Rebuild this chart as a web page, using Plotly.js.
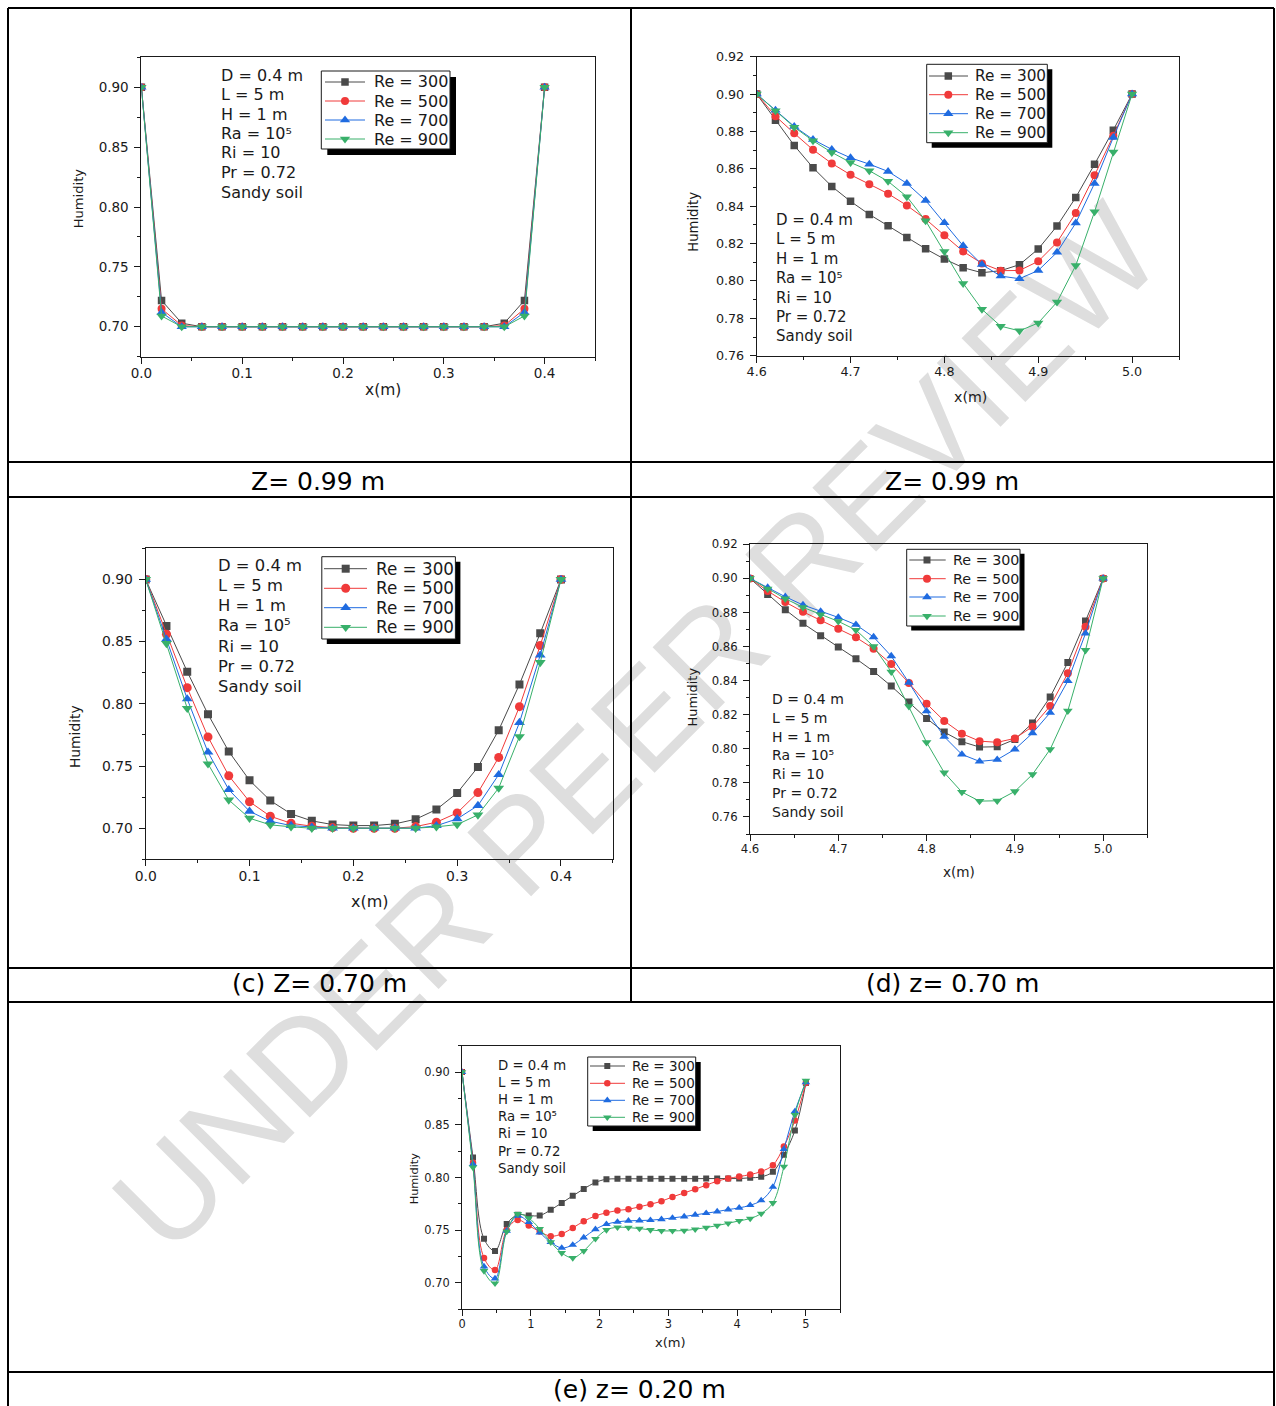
<!DOCTYPE html>
<html>
<head>
<meta charset="utf-8">
<script src="https://cdn.plot.ly/plotly-3.0.1.min.js"></script>
<style>
html, body { margin: 0; padding: 0; background: #ffffff; }
#chart { width: 1276px; height: 1406px; }
</style>
</head>
<body>
<div id="chart"></div>
<script>
// ---------------- DATA ----------------
const seriesNames = ['Re = 300', 'Re = 500', 'Re = 700', 'Re = 900'];
const paramLines = ['D = 0.4 m', 'L = 5 m', 'H = 1 m', 'Ra = 10\u2075', 'Ri = 10', 'Pr = 0.72', 'Sandy soil'];
const captions = ['Z= 0.99 m', 'Z= 0.99 m', '(c) Z= 0.70 m', '(d) z= 0.70 m', '(e) z= 0.20 m'];
const xTitle = 'x(m)';
const yTitle = 'Humidity';
const watermark = 'UNDER PEER REVIEW';

// (a) Z = 0.99 m, x from 0 to 0.4
const xA = [0.00, 0.02, 0.04, 0.06, 0.08, 0.10, 0.12, 0.14, 0.16, 0.18, 0.20, 0.22, 0.24, 0.26, 0.28, 0.30, 0.32, 0.34, 0.36, 0.38, 0.40];
const a300 = [0.900, 0.722, 0.703, 0.700, 0.700, 0.700, 0.700, 0.700, 0.700, 0.700, 0.700, 0.700, 0.700, 0.700, 0.700, 0.700, 0.700, 0.700, 0.703, 0.722, 0.900];
const a500 = [0.900, 0.715, 0.701, 0.700, 0.700, 0.700, 0.700, 0.700, 0.700, 0.700, 0.700, 0.700, 0.700, 0.700, 0.700, 0.700, 0.700, 0.700, 0.701, 0.715, 0.900];
const a700 = [0.900, 0.712, 0.700, 0.700, 0.700, 0.700, 0.700, 0.700, 0.700, 0.700, 0.700, 0.700, 0.700, 0.700, 0.700, 0.700, 0.700, 0.700, 0.700, 0.712, 0.900];
const a900 = [0.900, 0.709, 0.700, 0.700, 0.700, 0.700, 0.700, 0.700, 0.700, 0.700, 0.700, 0.700, 0.700, 0.700, 0.700, 0.700, 0.700, 0.700, 0.700, 0.709, 0.900];

// (b) Z = 0.99 m, x from 4.6 to 5.0
const xB = [4.60, 4.62, 4.64, 4.66, 4.68, 4.70, 4.72, 4.74, 4.76, 4.78, 4.80, 4.82, 4.84, 4.86, 4.88, 4.90, 4.92, 4.94, 4.96, 4.98, 5.00];
const b300 = [0.900, 0.8860, 0.8725, 0.8606, 0.8506, 0.8426, 0.8356, 0.8295, 0.8233, 0.8172, 0.8117, 0.8071, 0.8044, 0.8055, 0.8087, 0.8171, 0.8294, 0.8447, 0.8624, 0.8807, 0.900];
const b500 = [0.900, 0.8882, 0.8790, 0.8702, 0.8629, 0.8568, 0.8518, 0.8467, 0.8404, 0.8331, 0.8244, 0.8158, 0.8094, 0.8055, 0.8056, 0.8105, 0.8206, 0.8363, 0.8565, 0.8777, 0.900];
const b700 = [0.900, 0.8914, 0.8827, 0.8757, 0.8704, 0.8659, 0.8625, 0.8586, 0.8522, 0.8431, 0.8311, 0.8188, 0.8088, 0.8026, 0.8012, 0.8056, 0.8153, 0.8310, 0.8522, 0.8768, 0.900];
const b900 = [0.900, 0.8911, 0.8823, 0.8750, 0.8688, 0.8634, 0.8590, 0.8533, 0.8451, 0.8322, 0.8158, 0.7987, 0.7848, 0.7758, 0.7733, 0.7775, 0.7887, 0.8083, 0.8370, 0.8690, 0.900];

// (c) Z = 0.70 m, x from 0 to 0.4
const xC = [0.00, 0.02, 0.04, 0.06, 0.08, 0.10, 0.12, 0.14, 0.16, 0.18, 0.20, 0.22, 0.24, 0.26, 0.28, 0.30, 0.32, 0.34, 0.36, 0.38, 0.40];
const c300 = [0.900, 0.8626, 0.8258, 0.7916, 0.7617, 0.7385, 0.7222, 0.7115, 0.7059, 0.7029, 0.7021, 0.7021, 0.7035, 0.7072, 0.7150, 0.7283, 0.7491, 0.7788, 0.8156, 0.8567, 0.900];
const c500 = [0.900, 0.8559, 0.8130, 0.7734, 0.7422, 0.7213, 0.7096, 0.7040, 0.7016, 0.7005, 0.7000, 0.7000, 0.7000, 0.7013, 0.7048, 0.7123, 0.7286, 0.7569, 0.7977, 0.8469, 0.900];
const c700 = [0.900, 0.8519, 0.8039, 0.7611, 0.7310, 0.7136, 0.7056, 0.7021, 0.7008, 0.7000, 0.7000, 0.7000, 0.7000, 0.7000, 0.7020, 0.7075, 0.7182, 0.7430, 0.7849, 0.8391, 0.900];
const c900 = [0.900, 0.8485, 0.7964, 0.7518, 0.7227, 0.7080, 0.7027, 0.7011, 0.7000, 0.7000, 0.7000, 0.7000, 0.7000, 0.7000, 0.7011, 0.7029, 0.7107, 0.7323, 0.7737, 0.8332, 0.900];

// (d) z = 0.70 m, x from 4.6 to 5.0
const xD = [4.60, 4.62, 4.64, 4.66, 4.68, 4.70, 4.72, 4.74, 4.76, 4.78, 4.80, 4.82, 4.84, 4.86, 4.88, 4.90, 4.92, 4.94, 4.96, 4.98, 5.00];
const d300 = [0.900, 0.8906, 0.8816, 0.8736, 0.8664, 0.8597, 0.8529, 0.8454, 0.8368, 0.8275, 0.8178, 0.8098, 0.8042, 0.8010, 0.8012, 0.8055, 0.8151, 0.8304, 0.8507, 0.8750, 0.900];
const d500 = [0.900, 0.8926, 0.8861, 0.8804, 0.8754, 0.8705, 0.8654, 0.8587, 0.8497, 0.8386, 0.8265, 0.8163, 0.8089, 0.8045, 0.8038, 0.8061, 0.8130, 0.8251, 0.8444, 0.8716, 0.900];
const d700 = [0.900, 0.8947, 0.8892, 0.8844, 0.8806, 0.8771, 0.8728, 0.8656, 0.8544, 0.8388, 0.8221, 0.8071, 0.7967, 0.7926, 0.7936, 0.7997, 0.8092, 0.8212, 0.8398, 0.8677, 0.900];
const d900 = [0.900, 0.8939, 0.8881, 0.8830, 0.8787, 0.8748, 0.8697, 0.8601, 0.8452, 0.8249, 0.8038, 0.7860, 0.7746, 0.7693, 0.7695, 0.7750, 0.7850, 0.7997, 0.8223, 0.8579, 0.900];

// (e) z = 0.20 m, x from 0 to 5
const xE = [0.00, 0.16, 0.32, 0.48, 0.65, 0.81, 0.97, 1.13, 1.29, 1.45, 1.61, 1.77, 1.94, 2.10, 2.26, 2.42, 2.58, 2.74, 2.90, 3.06, 3.23, 3.39, 3.55, 3.71, 3.87, 4.03, 4.19, 4.35, 4.52, 4.68, 4.84, 5.00];
const e300 = [0.900, 0.8190, 0.7418, 0.7304, 0.7560, 0.7646, 0.7639, 0.7639, 0.7693, 0.7759, 0.7826, 0.7892, 0.7953, 0.7984, 0.7987, 0.7988, 0.7988, 0.7988, 0.7989, 0.7989, 0.7989, 0.7989, 0.7990, 0.7990, 0.7990, 0.7990, 0.7997, 0.8006, 0.8054, 0.8215, 0.8446, 0.8896];
const e500 = [0.900, 0.8139, 0.7237, 0.7123, 0.7503, 0.7598, 0.7544, 0.7487, 0.7443, 0.7465, 0.7522, 0.7585, 0.7636, 0.7665, 0.7687, 0.7699, 0.7722, 0.7747, 0.7775, 0.7816, 0.7854, 0.7889, 0.7927, 0.7965, 0.7991, 0.8009, 0.8028, 0.8057, 0.8117, 0.8294, 0.8541, 0.8896];
const e700 = [0.900, 0.8127, 0.7155, 0.7041, 0.7494, 0.7636, 0.7576, 0.7478, 0.7386, 0.7332, 0.7361, 0.7430, 0.7509, 0.7557, 0.7579, 0.7589, 0.7592, 0.7595, 0.7604, 0.7617, 0.7630, 0.7646, 0.7661, 0.7677, 0.7696, 0.7712, 0.7737, 0.7782, 0.7911, 0.8269, 0.8627, 0.8902];
const e900 = [0.900, 0.8095, 0.7114, 0.6997, 0.7487, 0.7655, 0.7614, 0.7513, 0.7386, 0.7285, 0.7237, 0.7304, 0.7418, 0.7503, 0.7528, 0.7525, 0.7516, 0.7503, 0.7494, 0.7494, 0.7497, 0.7509, 0.7525, 0.7544, 0.7566, 0.7589, 0.7611, 0.7658, 0.7759, 0.8104, 0.8595, 0.8918];

// ---------------- STYLE / LAYOUT (positions in page pixels) ----------------
const W = 1276, H = 1406;
const FONT = 'DejaVu Sans';
const INK = '#1a1a1a';
const seriesColors = ['#4a4a4a', '#f03a3a', '#1f6be0', '#38b06a'];
const seriesSymbols = ['square', 'circle', 'triangle-up', 'triangle-down'];

const panels = [
  { x: xA, ys: [a300, a500, a700, a900], box: [141.4, 57.3, 595, 356.7], xr: [0, 0.45], yr: [0.675, 0.925],
    xd: 0.1, xm: 0.05, yd: 0.05, ym: 0.025, xf: '.1f', yf: '.2f', tick: 13.5, ms: [7.5, 8, 9, 9], shape: 'linear',
    ytitle: { x: 79.3, y: 198, fs: 13.1 }, xtitle: { x: 382.7, y: 390, fs: 15.5 },
    par: { x: 218.5, y0: 75, dy: 19.5, fs: 16 },
    leg: { box: [321.3, 71, 450, 149], sh: 6, l0: 325, l1: 365, mx: 345, tx: 372, rows: [82, 101, 120, 139], fs: 16 },
    cap: { x: 318, y: 481.5 } },
  { x: xB, ys: [b300, b500, b700, b900], box: [756.7, 56.7, 1179, 355.7], xr: [4.6, 5.05], yr: [0.76, 0.92],
    xd: 0.1, xm: 0.05, yd: 0.02, ym: 0.01, xf: '.1f', yf: '.2f', tick: 12.7, ms: [7.5, 8, 9, 9], shape: 'linear',
    ytitle: { x: 694, y: 221.7, fs: 13.2 }, xtitle: { x: 970, y: 397.3, fs: 14.2 },
    par: { x: 774.3, y0: 220, dy: 19.4, fs: 15 },
    leg: { box: [926.7, 64.3, 1047.3, 142.7], sh: 5, l0: 929, l1: 968, mx: 948.3, tx: 973.3, rows: [76, 94.7, 113.7, 132.7], fs: 15.3 },
    cap: { x: 952, y: 481.5 } },
  { x: xC, ys: [c300, c500, c700, c900], box: [145.7, 548.3, 612.9, 859.3], xr: [0, 0.45], yr: [0.675, 0.925],
    xd: 0.1, xm: 0.05, yd: 0.05, ym: 0.025, xf: '.1f', yf: '.2f', tick: 13.9, ms: [8, 9, 9.5, 9.5], shape: 'linear',
    ytitle: { x: 74.3, y: 736.7, fs: 13.8 }, xtitle: { x: 370, y: 901.7, fs: 16 },
    par: { x: 216, y0: 565, dy: 20.3, fs: 16.4 },
    leg: { box: [321.8, 556.7, 455.4, 639], sh: 5, l0: 324, l1: 367, mx: 345.7, tx: 373.6, rows: [568.7, 588.3, 607.7, 627.3], fs: 16.8 },
    cap: { x: 319, y: 983 } },
  { x: xD, ys: [d300, d500, d700, d900], box: [750, 544.3, 1147.3, 834], xr: [4.6, 5.05], yr: [0.75, 0.92],
    xd: 0.1, xm: 0.05, yd: 0.02, ym: 0.01, xf: '.1f', yf: '.2f', tick: 11.7, ms: [7, 8, 8.5, 8.5], shape: 'linear',
    ytitle: { x: 692.7, y: 696.7, fs: 12.9 }, xtitle: { x: 959.3, y: 872.3, fs: 13.6 },
    par: { x: 770, y0: 699, dy: 18.83, fs: 14 },
    leg: { box: [906.7, 549.3, 1020, 626], sh: 4.5, l0: 909.3, l1: 945.7, mx: 927, tx: 950.7, rows: [560, 578.7, 597, 616], fs: 14.3 },
    cap: { x: 952, y: 983 } },
  { x: xE, ys: [e300, e500, e700, e900], box: [462, 1045.7, 840.3, 1309.3], xr: [0, 5.5], yr: [0.675, 0.925],
    xd: 1, xm: 0.5, yd: 0.05, ym: 0.025, xf: '.0f', yf: '.2f', tick: 11.4, ms: [6, 6.5, 7.5, 7.5], shape: 'spline',
    ytitle: { x: 414, y: 1178.3, fs: 11.3 }, xtitle: { x: 670, y: 1342.7, fs: 13.1 },
    par: { x: 496, y0: 1065.3, dy: 17.17, fs: 13.3 },
    leg: { box: [587.7, 1057, 695.7, 1126], sh: 5, l0: 590, l1: 625, mx: 607.3, tx: 630, rows: [1066, 1083.3, 1100.3, 1117.3], fs: 13.5 },
    cap: { x: 639, y: 1389 } }
];

// table ruling (page pixels)
const tableLeft = 8, tableRight = 1274, tableTop = 8, tableBottom = 1406, tableMid = 631, midEnd = 1002;
const tableRows = [462, 497, 968, 1002, 1372];

// ---------------- BUILD ----------------
const px = v => v / W;
const py = v => 1 - v / H;

const data = [];
const layout = {
  width: W, height: H,
  margin: { l: 0, r: 0, t: 0, b: 0, pad: 0 },
  paper_bgcolor: '#ffffff', plot_bgcolor: 'rgba(0,0,0,0)',
  showlegend: false,
  font: { family: FONT, color: INK },
  shapes: [], annotations: []
};

// watermark, drawn beneath the curves
layout.shapes.push({ type: 'rect', xref: 'paper', yref: 'paper', x0: px(627) - 0.004, x1: px(627) + 0.004, y0: py(719) - 0.004, y1: py(719) + 0.004,
  line: { width: 0 }, fillcolor: 'rgba(0,0,0,0)', layer: 'below',
  label: { text: watermark, textangle: -45, textposition: 'middle center', xanchor: 'center', yanchor: 'middle',
    font: { family: 'Liberation Sans', size: 131, color: '#dedede' } } });

function markerShape(sym, cx, cy, size, color) {
  const r = size / 2;
  if (sym === 'circle') {
    return { type: 'circle', xref: 'paper', yref: 'paper', x0: px(cx - r), x1: px(cx + r), y0: py(cy + r), y1: py(cy - r),
      fillcolor: color, line: { width: 0 }, layer: 'above' };
  }
  let pts;
  if (sym === 'square') {
    pts = [[cx - r, cy - r], [cx + r, cy - r], [cx + r, cy + r], [cx - r, cy + r]];
  } else {
    const rt = r * 2 / Math.sqrt(3);
    if (sym === 'triangle-up') pts = [[cx - rt, cy + r / 2], [cx + rt, cy + r / 2], [cx, cy - r]];
    else pts = [[cx - rt, cy - r / 2], [cx + rt, cy - r / 2], [cx, cy + r]];
  }
  const path = 'M ' + pts.map(p => px(p[0]) + ',' + py(p[1])).join(' L ') + ' Z';
  return { type: 'path', xref: 'paper', yref: 'paper', path: path, fillcolor: color, line: { width: 0 }, layer: 'above' };
}

panels.forEach((p, i) => {
  const n = i + 1, m = i + 6;
  const xa = n === 1 ? 'x' : 'x' + n;
  const ya = n === 1 ? 'y' : 'y' + n;
  const xKey = n === 1 ? 'xaxis' : 'xaxis' + n;
  const yKey = n === 1 ? 'yaxis' : 'yaxis' + n;

  const base = {
    showgrid: false, zeroline: false, showline: true, mirror: true, linecolor: INK, linewidth: 1,
    ticks: 'outside', ticklen: 6, tickwidth: 1, tickcolor: INK,
    tickfont: { family: FONT, size: p.tick, color: INK }, fixedrange: true
  };
  layout[xKey] = Object.assign({}, base, {
    domain: [px(p.box[0]), px(p.box[2])], anchor: ya, range: p.xr, dtick: p.xd, tick0: 0, tickformat: p.xf,
    ticklabelstandoff: -2,
    minor: { dtick: p.xm, tick0: 0, ticks: 'outside', ticklen: 3, tickcolor: INK, tickwidth: 1 }
  });
  layout[yKey] = Object.assign({}, base, {
    domain: [py(p.box[3]), py(p.box[1])], anchor: xa, range: p.yr, dtick: p.yd, tick0: 0, tickformat: p.yf,
    ticklabelstandoff: 3,
    minor: { dtick: p.ym, tick0: 0, ticks: 'outside', ticklen: 3, tickcolor: INK, tickwidth: 1 }
  });
  // mirrored inside ticks on top and right
  const mirrorBase = {
    showgrid: false, zeroline: false, showline: false, showticklabels: false,
    ticks: 'inside', ticklen: 5, tickwidth: 1, tickcolor: INK, fixedrange: true
  };
  layout['xaxis' + m] = Object.assign({}, mirrorBase, {
    overlaying: xa, anchor: ya, side: 'top', range: p.xr, dtick: p.xd, tick0: 0,
    minor: { dtick: p.xm, tick0: 0, ticks: 'inside', ticklen: 3, tickcolor: INK, tickwidth: 1 }
  });
  layout['yaxis' + m] = Object.assign({}, mirrorBase, {
    overlaying: ya, anchor: xa, side: 'right', range: p.yr, dtick: p.yd, tick0: 0,
    minor: { dtick: p.ym, tick0: 0, ticks: 'inside', ticklen: 3, tickcolor: INK, tickwidth: 1 }
  });

  // series
  p.ys.forEach((ys, j) => {
    data.push({
      type: 'scatter', mode: 'lines+markers', name: seriesNames[j],
      x: p.x, y: ys, xaxis: xa, yaxis: ya, showlegend: false,
      line: { color: seriesColors[j], width: 1, shape: p.shape },
      marker: { symbol: seriesSymbols[j], size: p.ms[j], color: seriesColors[j], line: { width: 0 } }
    });
  });

  // axis titles
  layout.annotations.push({ xref: 'paper', yref: 'paper', x: px(p.xtitle.x), y: py(p.xtitle.y), xanchor: 'center', yanchor: 'middle',
    text: xTitle, showarrow: false, font: { family: FONT, size: p.xtitle.fs, color: INK } });
  layout.annotations.push({ xref: 'paper', yref: 'paper', x: px(p.ytitle.x), y: py(p.ytitle.y), xanchor: 'center', yanchor: 'middle',
    text: yTitle, textangle: -90, showarrow: false, font: { family: FONT, size: p.ytitle.fs, color: INK } });

  // parameter text block
  paramLines.forEach((t, k) => {
    layout.annotations.push({ xref: 'paper', yref: 'paper', x: px(p.par.x), y: py(p.par.y0 + k * p.par.dy),
      xanchor: 'left', yanchor: 'middle', text: t, showarrow: false, font: { family: FONT, size: p.par.fs, color: INK } });
  });

  // legend box with drop shadow
  const L = p.leg;
  layout.shapes.push({ type: 'rect', xref: 'paper', yref: 'paper', x0: px(L.box[0] + L.sh), x1: px(L.box[2] + L.sh),
    y0: py(L.box[3] + L.sh), y1: py(L.box[1] + L.sh), fillcolor: '#000000', line: { width: 0 }, layer: 'above' });
  layout.shapes.push({ type: 'rect', xref: 'paper', yref: 'paper', x0: px(L.box[0]), x1: px(L.box[2]),
    y0: py(L.box[3]), y1: py(L.box[1]), fillcolor: '#ffffff', line: { color: INK, width: 1 }, layer: 'above' });
  L.rows.forEach((ry, j) => {
    layout.shapes.push({ type: 'line', xref: 'paper', yref: 'paper', x0: px(L.l0), x1: px(L.l1), y0: py(ry), y1: py(ry),
      line: { color: seriesColors[j], width: 1 }, layer: 'above' });
    layout.shapes.push(markerShape(seriesSymbols[j], L.mx, ry, p.ms[j], seriesColors[j]));
    layout.annotations.push({ xref: 'paper', yref: 'paper', x: px(L.tx), y: py(ry), xanchor: 'left', yanchor: 'middle',
      text: seriesNames[j], showarrow: false, font: { family: FONT, size: L.fs, color: INK } });
  });

  // caption
  layout.annotations.push({ xref: 'paper', yref: 'paper', x: px(p.cap.x), y: py(p.cap.y), xanchor: 'center', yanchor: 'middle',
    text: captions[i], showarrow: false, font: { family: FONT, size: 25, color: '#000000' } });
});

// table lines
function hline(y, x0, x1) { return { type: 'line', xref: 'paper', yref: 'paper', x0: px(x0), x1: px(x1), y0: py(y), y1: py(y), line: { color: '#000000', width: 2 }, layer: 'above' }; }
function vline(x, y0, y1) { return { type: 'line', xref: 'paper', yref: 'paper', x0: px(x), x1: px(x), y0: py(y0), y1: py(y1), line: { color: '#000000', width: 2 }, layer: 'above' }; }
layout.shapes.push(hline(tableTop, tableLeft, tableRight));
layout.shapes.push(vline(tableLeft, tableTop, tableBottom));
layout.shapes.push(vline(tableRight, tableTop, tableBottom));
layout.shapes.push(vline(tableMid, tableTop, midEnd));
tableRows.forEach(y => layout.shapes.push(hline(y, tableLeft, tableRight)));

Plotly.newPlot('chart', data, layout, { displayModeBar: false, staticPlot: true });
</script>
</body>
</html>
